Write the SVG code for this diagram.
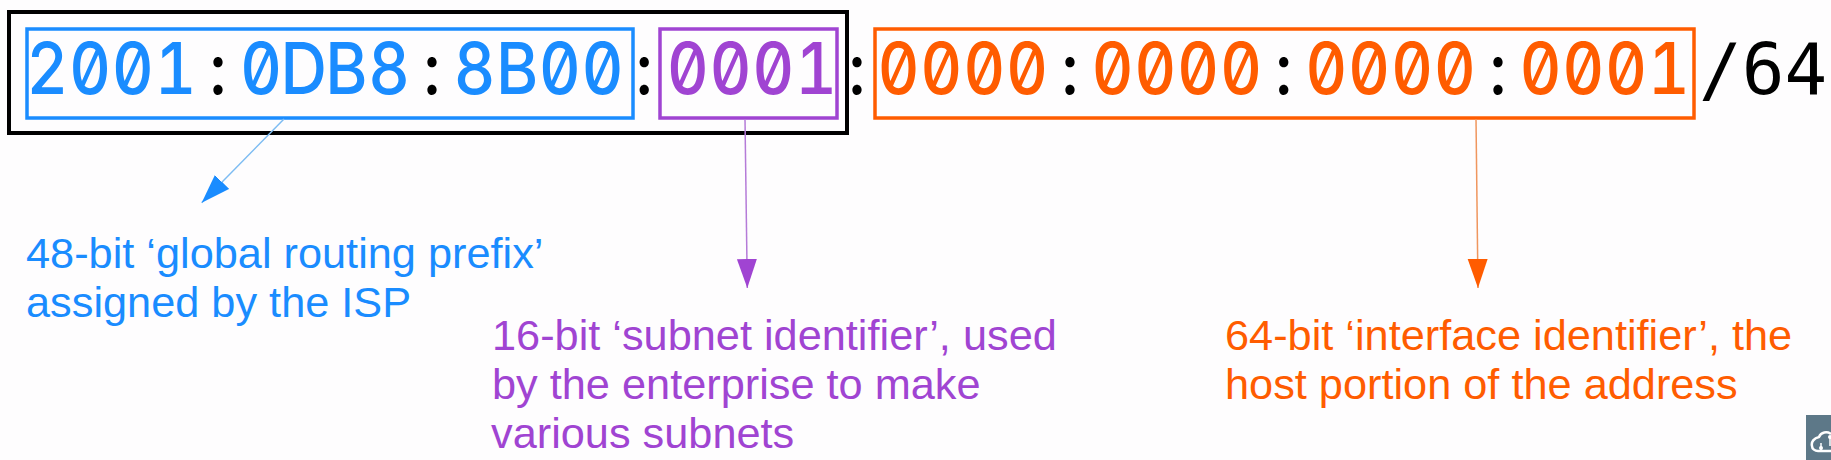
<svg xmlns="http://www.w3.org/2000/svg" width="1831" height="460" viewBox="0 0 1831 460">
<style>
.addr{font-family:Inter,"DejaVu Sans",sans-serif;font-size:71.5px;font-weight:500;font-feature-settings:"zero","tnum";text-anchor:middle}
.plen{font-family:"DejaVu Sans Mono",monospace;font-size:71px}
.lab{font-family:"Liberation Sans",Arial,sans-serif;font-size:43.3px}
.box{fill:none;stroke-width:3.5}
.blue{fill:#1a8cff}.purple{fill:#a044d2}.orange{fill:#ff5c00}.black{fill:#000}
</style>
<defs>
<marker id="hb" markerUnits="userSpaceOnUse" markerWidth="32" markerHeight="22" refX="29" refY="10" orient="auto"><path d="M0 0L29 10L0 20Z" fill="#1a8cff"/></marker>
<marker id="hp" markerUnits="userSpaceOnUse" markerWidth="32" markerHeight="22" refX="29" refY="10" orient="auto"><path d="M0 0L29 10L0 20Z" fill="#a044d2"/></marker>
<marker id="ho" markerUnits="userSpaceOnUse" markerWidth="32" markerHeight="22" refX="29" refY="10" orient="auto"><path d="M0 0L29 10L0 20Z" fill="#ff5c00"/></marker>
</defs>
<rect width="1831" height="460" fill="#fefdfe"/>
<g id="prefix-frame"><rect x="9" y="12" width="838" height="121" fill="none" stroke="#000" stroke-width="4"/></g>
<g id="global-routing-prefix">
<rect class="box" x="27" y="29" width="606" height="89" stroke="#1a8cff"/>
<text class="addr blue" transform="translate(0 94) scale(.9 1)"><tspan x="52.7 100.1 147.6 195">2001</tspan><tspan class="black" x="242.2">:</tspan><tspan x="290 337.4 384.9 432.3">0DB8</tspan><tspan class="black" x="480">:</tspan><tspan x="527.2 574.7 622.1 669.6">8B00</tspan></text>
<text class="lab blue" x="26" y="268">48-bit ‘global routing prefix’</text>
<text class="lab blue" x="26" y="317">assigned by the ISP</text>
</g>
<g id="colon-1"><text class="addr black" transform="translate(0 94) scale(.9 1)" x="715.6">:</text></g>
<g id="subnet-identifier">
<rect class="box" x="660" y="29" width="177" height="89" stroke="#a044d2"/>
<text class="addr purple" transform="translate(0 94) scale(.9 1)" x="764.4 811.9 859.3 906.8">0001</text>
<text class="lab purple" x="492" y="350">16-bit ‘subnet identifier’, used</text>
<text class="lab purple" x="492" y="399">by the enterprise to make</text>
<text class="lab purple" x="491" y="448">various subnets</text>
</g>
<g id="colon-2"><text class="addr black" transform="translate(0 94) scale(.9 1)" x="952.2">:</text></g>
<g id="interface-identifier">
<rect class="box" x="875" y="29" width="819" height="89" stroke="#ff5c00"/>
<text class="addr orange" transform="translate(0 94) scale(.9 1)"><tspan x="998.4 1046 1093.6 1141.1">0000</tspan><tspan class="black" x="1188.7">:</tspan><tspan x="1236.2 1283.8 1331.3 1378.9">0000</tspan><tspan class="black" x="1426.2">:</tspan><tspan x="1473.8 1521.3 1568.9 1616.4">0000</tspan><tspan class="black" x="1664.2">:</tspan><tspan x="1711.8 1759.3 1806.9 1854.4">0001</tspan></text>
<text class="lab orange" x="1225" y="350">64-bit ‘interface identifier’, the</text>
<text class="lab orange" x="1225" y="399">host portion of the address</text>
</g>
<g id="prefix-length"><text class="plen black" x="1699" y="94">/64</text></g>
<g id="connectors" fill="none">
<path d="M284 119L201.7 202.7" stroke="#7dbcf2" stroke-width="1.5" marker-end="url(#hb)"/>
<path d="M745 119L747.3 288" stroke="#b57bd8" stroke-width="1.5" marker-end="url(#hp)"/>
<path d="M1476 119L1478 288" stroke="#f0965e" stroke-width="1.5" marker-end="url(#ho)"/>
</g>
<g id="corner-icon">
<rect x="1806" y="415" width="25" height="45" fill="#5d7888"/>
<path d="M1831 434C1827 431 1821 432 1819 437C1814 438 1811 442 1812 446C1812 449 1815 451 1818 451L1831 451" fill="none" stroke="#fff" stroke-width="2.5"/>
<path d="M1821 450V443M1830 438V446" fill="none" stroke="#fff" stroke-width="1.5"/>
<circle cx="1821" cy="448" r="2" fill="#fff"/><circle cx="1830" cy="437" r="2" fill="#fff"/>
</g>
</svg>
